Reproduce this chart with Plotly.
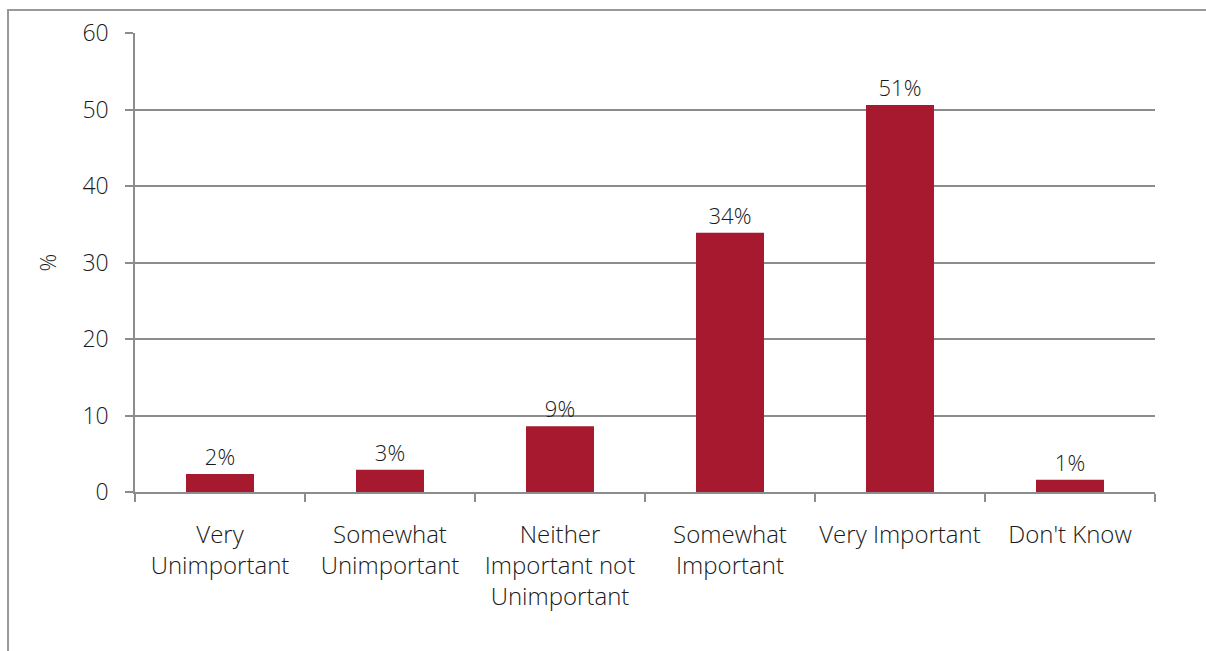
import plotly.graph_objects as go

categories = ["Very<br>Unimportant", "Somewhat<br>Unimportant", "Neither<br>Important not<br>Unimportant",
              "Somewhat<br>Important", "Very Important", "Don't Know"]
values = [2.35, 2.9, 8.6, 33.9, 50.6, 1.6]
labels = ["2%", "3%", "9%", "34%", "51%", "1%"]

FONT = "'Open Sans', Lato, sans-serif"
GRID = "#8c8c8c"
TXT = "#1a1a1a"

fig = go.Figure(go.Bar(
    x=categories, y=values, text=labels, textposition="outside",
    marker=dict(color="#A6192E", line=dict(width=0)),
    textfont=dict(size=22, color=TXT, family=FONT, weight=300),
    cliponaxis=False, width=0.4,
))

fig.update_layout(
    width=1206, height=651,
    margin=dict(l=135, r=51, t=33, b=159),
    plot_bgcolor="white", paper_bgcolor="white",
    font=dict(family=FONT, color=TXT, size=22, weight=300),
    showlegend=False,
    xaxis=dict(
        showline=True, linecolor=GRID, linewidth=1.5,
        ticks="outside", ticklen=8, tickcolor=GRID, tickwidth=1.5,
        tickson="boundaries", ticklabelstandoff=20, tickangle=0, automargin=False,
        tickfont=dict(size=24, family=FONT, color=TXT, weight=300),
    ),
    yaxis=dict(
        range=[0, 60], dtick=10, showgrid=True, gridcolor=GRID, gridwidth=1.5,
        showline=True, linecolor=GRID, linewidth=1.5,
        ticks="outside", ticklen=8, tickcolor=GRID, tickwidth=1.5,
        zeroline=False, ticklabelstandoff=12, automargin=False,
        tickfont=dict(size=23, family=FONT, color=TXT, weight=300),
        title=dict(text="%", font=dict(size=22, family=FONT, color=TXT, weight=300), standoff=20),
    ),
    shapes=[
        dict(type="rect", xref="paper", yref="paper", x0=-0.1245, x1=1.3, y0=-0.6, y1=1.05,
             line=dict(color="#999999", width=2), fillcolor="rgba(0,0,0,0)", layer="below"),
    ],
)

fig.write_html("out.html", config={"displayModeBar": False})
